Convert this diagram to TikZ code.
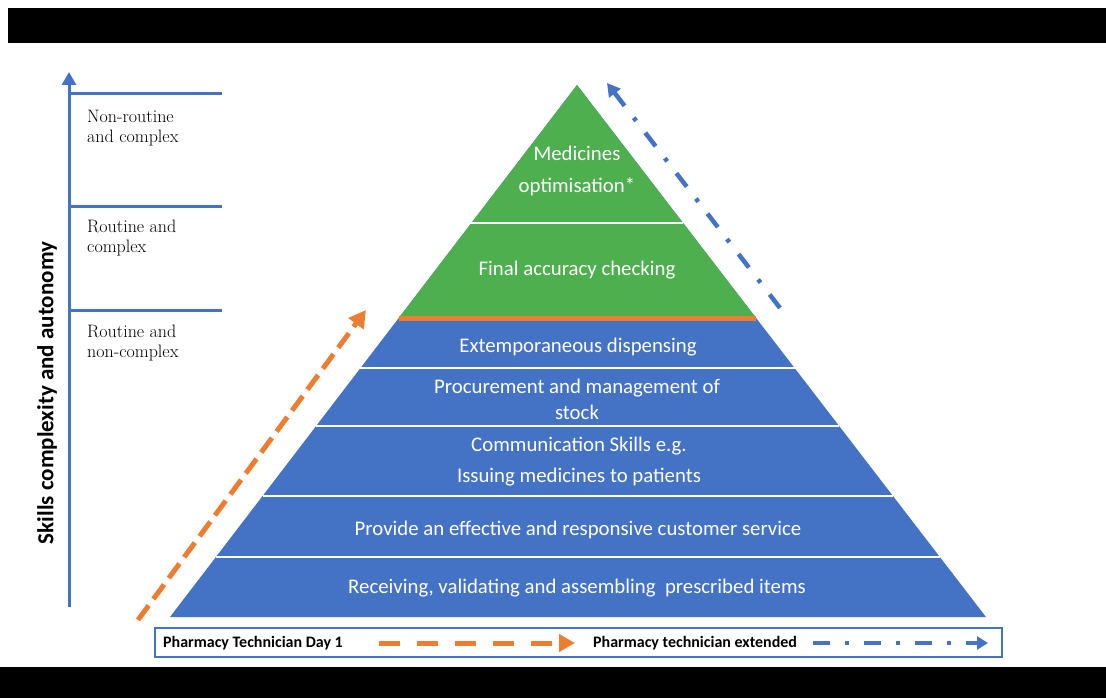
\documentclass[tikz,border=0pt]{standalone}
\usepackage{fontspec}
\setsansfont{Carlito}
\usetikzlibrary{arrows.meta,calc}
\definecolor{pblue}{HTML}{4472C4}
\definecolor{pgreen}{HTML}{4DAF4E}
\definecolor{porange}{HTML}{ED7D31}
\begin{document}
\begin{tikzpicture}[x=1pt,y=-1pt,
  layer/.style={font=\sffamily\fontsize{20.8}{24}\selectfont, text=white, align=center, inner sep=0pt},
  levellabel/.style={font=\fontsize{18}{20}\selectfont, align=left, anchor=west, inner sep=0pt},
  divider/.style={white, line width=2pt},
  axisline/.style={pblue, line width=3pt},
  legtext/.style={font=\sffamily\bfseries\fontsize{16}{18}\selectfont, anchor=west, inner sep=0pt},
  dayone/.style={porange, line width=5pt, dash pattern=on 18pt off 8pt, -{Triangle[length=17pt,width=18pt]}},
  extended/.style={pblue, line width=4.5pt, dash pattern=on 17pt off 15pt on 4pt off 15pt, -{Triangle[length=13pt,width=14pt]}},
  legdayone/.style={porange, line width=5pt, dash pattern=on 21pt off 17pt, -{Triangle[length=16pt,width=17pt]}},
  legextended/.style={pblue, line width=4pt, dash pattern=on 17pt off 15pt on 4pt off 15pt, -{Triangle[length=11pt,width=13pt]}}]
\useasboundingbox (0,0) rectangle (1106,698);
% black bars
\fill[black] (8,8) rectangle (1106,43);
\fill[black] (0,667) rectangle (1106,698);
% axis
\coordinate (axB) at (69,607);
\coordinate (axT) at (69,72);
\draw[axisline, -{Triangle[length=13pt,width=14pt]}] (axB) -- (axT);
\draw[axisline] (69,94) -- (222,94);
\draw[axisline] (69,206) -- (222,206);
\draw[axisline] (69,310) -- (222,310);
\node[levellabel] (lv1) at (87,128) {Non-routine\\and complex};
\node[levellabel] (lv2) at (87,238) {Routine and\\complex};
\node[levellabel] (lv3) at (87,343) {Routine and\\non-complex};
\node[rotate=90, font=\sffamily\bfseries\fontsize{23}{26}\selectfont, inner sep=0pt] (axl) at (47,393) {Skills complexity and autonomy};
% pyramid
\coordinate (A) at (577,85);
\coordinate (BL) at (170,617);
\coordinate (BR) at (986,617);
\fill[pblue] (A) -- (BR) -- (BL) -- cycle;
\fill[pgreen] (A) -- ($(A)!0.438!(BR)$) -- ($(A)!0.438!(BL)$) -- cycle;
\draw[porange, line width=5pt] ($(A)!0.438!(BL)$) -- ($(A)!0.438!(BR)$);
\foreach \t in {0.2594,0.532,0.641,0.7726,0.887}
  \draw[divider] ($(A)!\t!(BL)$) -- ($(A)!\t!(BR)$);
\node[layer, font=\sffamily\fontsize{20.8}{32}\selectfont] (med) at (577,171) {Medicines\\optimisation*};
\node[layer] (fac) at (577,270) {Final accuracy checking};
\node[layer] (ext) at (578,347) {Extemporaneous dispensing};
\node[layer, font=\sffamily\fontsize{20.8}{26}\selectfont] (proc) at (577,399) {Procurement and management of\\stock};
\node[layer, font=\sffamily\fontsize{20.8}{31}\selectfont] (comm) at (579,462) {Communication Skills e.g.\\Issuing medicines to patients};
\node[layer] (prov) at (578,530) {Provide an effective and responsive customer service};
\node[layer] (recv) at (577,588) {Receiving, validating and assembling\ \ prescribed items};
% progression arrows
\coordinate (oS) at (138,620);
\coordinate (oE) at (366,310);
\draw[dayone] (oS) -- (oE);
\coordinate (bS) at (780,308);
\coordinate (bE) at (607,83);
\draw[extended] (bS) -- (bE);
% legend
\node[draw=pblue, line width=2pt, fill=white, minimum width=847pt, minimum height=29pt, inner sep=0pt] (legend) at (578.5,642.5) {};
\node[legtext] (l1) at (163,643) {Pharmacy Technician Day 1};
\node[legtext] (l2) at (593,643) {Pharmacy technician extended};
\coordinate (la1) at (379,643);
\coordinate (la2) at (575,643);
\draw[legdayone] (la1) -- (la2);
\coordinate (lb1) at (813,643);
\coordinate (lb2) at (988,643);
\draw[legextended] (lb1) -- (lb2);
\end{tikzpicture}
\end{document}
